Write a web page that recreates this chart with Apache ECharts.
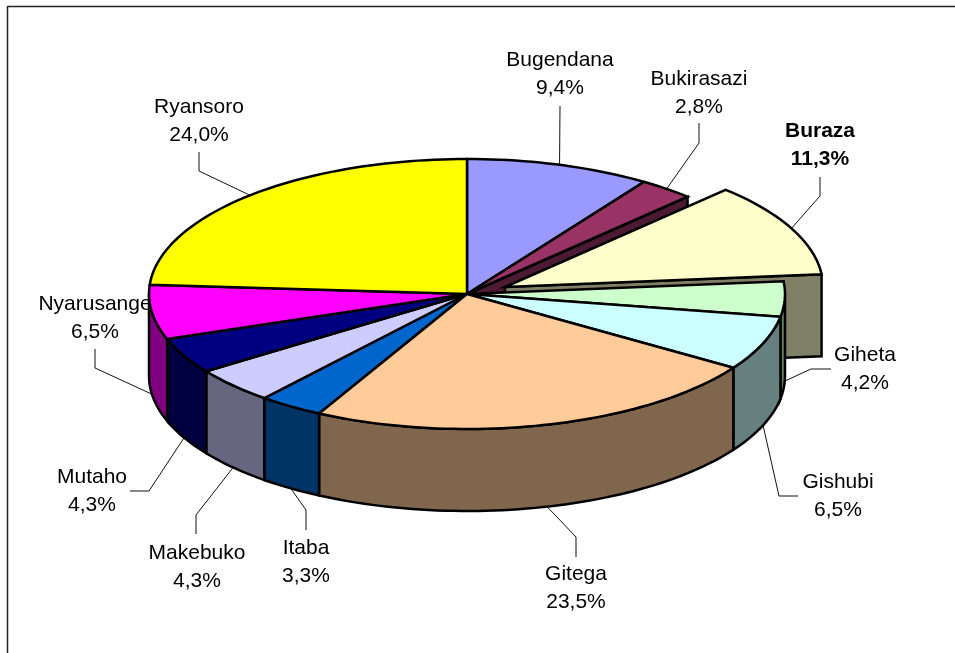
<!DOCTYPE html>
<html>
<head>
<meta charset="utf-8">
<style>html,body{margin:0;padding:0;background:#fff}#chart{width:955px;height:653px}</style>
<script src="https://cdn.jsdelivr.net/npm/echarts@6/dist/echarts.min.js"></script>
</head>
<body>
<div id="chart"></div>
<script>
// ---- data ----
var names = ['Bugendana','Bukirasazi','Buraza','Giheta','Gishubi','Gitega','Itaba','Makebuko','Mutaho','Nyarusange','Ryansoro'];
var values = [9.4,2.8,11.3,4.2,6.5,23.5,3.3,4.3,4.3,6.5,24.0];
var explodedName = 'Buraza';

// ---- styles ----
var topColors = ['#9999FF','#993366','#FFFFCC','#CCFFCC','#CCFFFF','#FFCC99','#0066CC','#CCCCFF','#000080','#FF00FF','#FFFF00'];
var geom = {cx:467, cy:294, rx:318, ry:135, depth:82, dx:38, dy:-7};
// label centre and leader elbows (page pixels); the leader's slice end comes from the data
var labelLayout = {
  Bugendana:{x:560,y:74,elbow:[[560,106]]},
  Bukirasazi:{x:699,y:93,elbow:[[699,123],[699,143]]},
  Buraza:{x:820,y:145,bold:true,elbow:[[820,177],[820,196]]},
  Giheta:{x:865,y:369,elbow:[[831,369],[811,369]]},
  Gishubi:{x:838,y:496,elbow:[[798,496],[779,496]]},
  Gitega:{x:576,y:588,elbow:[[576,557],[576,537]]},
  Itaba:{x:306,y:562,elbow:[[306,530],[306,510]]},
  Makebuko:{x:197,y:567,elbow:[[196,534],[196,515]]},
  Mutaho:{x:92,y:491,elbow:[[130,491],[149,491]]},
  Nyarusange:{x:95,y:318,elbow:[[95,349],[95,368]]},
  Ryansoro:{x:199,y:121,elbow:[[199,152],[199,171]]}
};

// ---- geometry from values (labels are percentages of 100) ----
var starts = [], ends = [], acc = 0;
values.forEach(function(v){ starts.push(acc*3.6); acc += v; ends.push(Math.min(acc*3.6,360)); });
var ex = names.indexOf(explodedName);

function rim(deg, ox, oy){
  var t = deg*Math.PI/180;
  return [geom.cx+(ox||0)+geom.rx*Math.sin(t), geom.cy+(oy||0)-geom.ry*Math.cos(t)];
}
function arc(a,b,ox,oy,dz){
  var pts=[], n=Math.max(2,Math.ceil(Math.abs(b-a)/1.5));
  for(var k=0;k<=n;k++){ var p=rim(a+(b-a)*k/n,ox,oy); pts.push([p[0],p[1]+(dz||0)]); }
  return pts;
}
function darker(hex){
  var n=parseInt(hex.slice(1),16);
  var c=[(n>>16)&255,(n>>8)&255,n&255].map(function(v){return Math.round(v*0.5);});
  return 'rgb('+c.join(',')+')';
}
function poly(points,fill){
  return {type:'polygon',silent:true,shape:{points:points},
    style:{fill:fill,stroke:'#000',lineWidth:2.5,lineJoin:'miter'}};
}
function offs(i){ return i===ex?[geom.dx,geom.dy]:[0,0]; }
function topFace(i){
  var o=offs(i);
  return poly([[geom.cx+o[0],geom.cy+o[1]]].concat(arc(starts[i],ends[i],o[0],o[1])),topColors[i]);
}
// radial cut face at an angle, extruded down
function cutFace(deg,i){
  var o=offs(i), p=rim(deg,o[0],o[1]), c=[geom.cx+o[0],geom.cy+o[1]];
  return poly([c,p,[p[0],p[1]+geom.depth],[c[0],c[1]+geom.depth]],darker(topColors[i]));
}
// outer wall, only the part facing the viewer
function wall(i){
  var o=offs(i), a=Math.max(starts[i],90), b=Math.min(ends[i],270);
  if(b<=a) return null;
  var upper=arc(a,b,o[0],o[1]), lower=arc(a,b,o[0],o[1],geom.depth).reverse();
  return poly(upper.concat(lower),darker(topColors[i]));
}
function leader(i){
  var L=labelLayout[names[i]], o=offs(i), mid=(starts[i]+ends[i])/2, p=rim(mid,o[0],o[1]);
  if(mid>90&&mid<270) p=[p[0],p[1]+geom.depth];
  return {type:'polyline',silent:true,shape:{points:L.elbow.concat([p])},
    style:{fill:null,stroke:'#111',lineWidth:1}};
}
function fmt(v){ return v.toFixed(1).replace('.',',')+'%'; }
function labelText(i){
  var L=labelLayout[names[i]];
  return {type:'text',silent:true,style:{
    x:L.x,y:L.y,text:names[i]+'\n'+fmt(values[i]),align:'center',verticalAlign:'middle',
    fontFamily:'"Liberation Sans",Arial,sans-serif',fontSize:21,lineHeight:27.5,
    fontWeight:L.bold?'bold':'normal',fill:'#000'}};
}

function layer(name,fn){
  return {type:'custom',name:name,coordinateSystem:'none',silent:true,animation:false,clip:false,
    data:values.map(function(v,i){return {name:names[i],value:[v]};}),
    renderItem:function(params){
      var r=fn(params.dataIndex);
      return r?{type:'group',children:r.filter(Boolean)}:{type:'group',children:[]};
    }};
}

var frontName = 'Gitega';
var front = names.indexOf(frontName);
var series = [
  // face behind the gap left by the pulled-out slice
  layer('gapFace',function(i){ return i===(ex-1+values.length)%values.length?[cutFace(ends[i],i)]:null; }),
  // pulled-out slice
  layer('exploded',function(i){ return i===ex?[cutFace(ends[i],i),wall(i),topFace(i)]:null; }),
  // main pie
  layer('walls',function(i){ return i!==ex?[wall(i)]:null; }),
  layer('tops',function(i){ return i!==ex&&i!==front?[topFace(i)]:null; }),
  layer('frontTop',function(i){ return i===front?[topFace(i)]:null; }),
  // labels
  layer('leaders',function(i){ return [leader(i)]; }),
  layer('labels',function(i){ return [labelText(i)]; })
];
series.forEach(function(s,k){ s.z=k+1; });

var chart = echarts.init(document.getElementById('chart'),null,{renderer:'canvas'});
chart.setOption({
  backgroundColor:'#fff',
  animation:false,
  tooltip:{show:false},
  graphic:[
    {type:'line',silent:true,shape:{x1:7.5,y1:6.5,x2:955,y2:6.5},style:{stroke:'#222',lineWidth:1.5}},
    {type:'line',silent:true,shape:{x1:7.5,y1:6,x2:7.5,y2:653},style:{stroke:'#222',lineWidth:1.5}}
  ],
  series:series
});
</script>
</body>
</html>
